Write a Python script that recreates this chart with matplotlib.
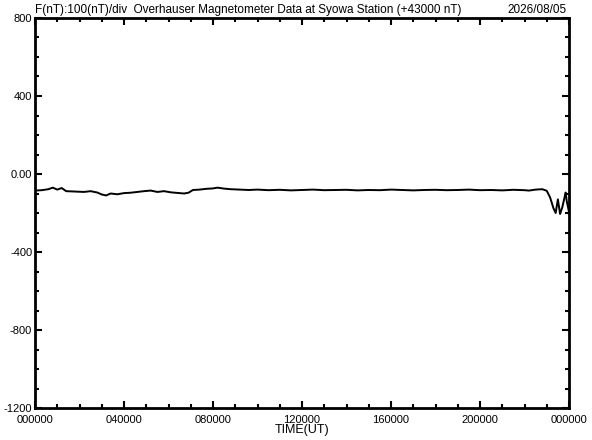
import numpy as np
import matplotlib
matplotlib.use("Agg")
import matplotlib.pyplot as plt
from matplotlib.ticker import MultipleLocator

plt.rcParams['font.family'] = ['Liberation Sans', 'DejaVu Sans']

# hours (UT) and F - 43000 (nT)
hours = [0.0, 0.3, 0.6, 0.8, 1.0, 1.2, 1.4, 1.8, 2.2, 2.5, 2.8, 3.0, 3.2, 3.4, 3.7,
         4.0, 4.3, 4.6, 4.9, 5.2, 5.5, 5.8, 6.1, 6.4, 6.7, 6.9, 7.1, 7.4, 7.7, 8.0,
         8.2, 8.5, 8.8, 9.2, 9.6, 10.0, 10.5, 11.0, 11.5, 12.0, 12.5, 13.0, 13.5,
         14.0, 14.5, 15.0, 15.5, 16.0, 16.5, 17.0, 17.5, 18.0, 18.5, 19.0, 19.5,
         20.0, 20.5, 21.0, 21.5, 22.0, 22.2, 22.5, 22.8, 23.0, 23.15, 23.3, 23.4,
         23.5, 23.6, 23.7, 23.8, 23.85, 23.9, 24.0]
fval = [-85, -83, -78, -70, -80, -72, -88, -90, -92, -88, -95, -105, -110, -100, -104,
        -98, -96, -92, -88, -85, -92, -88, -94, -97, -100, -96, -82, -80, -76, -74,
        -70, -75, -78, -80, -82, -80, -83, -81, -84, -82, -80, -83, -82,
        -81, -84, -82, -83, -80, -82, -84, -82, -81, -83, -82, -80,
        -83, -82, -84, -81, -83, -85, -80, -78, -86, -120, -175, -200,
        -130, -205, -170, -120, -95, -140, -195]

xticks = [0, 4, 8, 12, 16, 20, 24]
xlabels = ['000000', '040000', '080000', '120000', '160000', '200000', '000000']
yticks = [-1200, -800, -400, 0, 400, 800]
ylabels = ['-1200', '-800', '-400', '0.00', '400', '800']

fig = plt.figure(figsize=(5.92, 4.40), dpi=100)
ax = fig.add_axes([35/592, 32/440, 534/592, 390/440])
ax.plot(hours, fval, color='black', lw=1.4)

ax.set_xlim(0, 24)
ax.set_ylim(-1200, 800)
ax.set_xticks(xticks)
ax.set_xticklabels(xlabels)
ax.set_yticks(yticks)
ax.set_yticklabels(ylabels)
ax.xaxis.set_minor_locator(MultipleLocator(1))
ax.yaxis.set_minor_locator(MultipleLocator(100))
ax.tick_params(which='both', direction='in', top=True, right=True, width=1.5,
               labelsize=8, colors='black')
ax.tick_params(axis='x', pad=5)
ax.tick_params(axis='y', pad=2)
ax.tick_params(which='major', length=5)
ax.tick_params(which='minor', length=3)
for s in ax.spines.values():
    s.set_linewidth(2)

ax.set_xlabel('TIME(UT)', fontsize=9, labelpad=-1)
ax.text(0, 1.005, 'F(nT):100(nT)/div  Overhauser Magnetometer Data at Syowa Station (+43000 nT)',
        transform=ax.transAxes, fontsize=8.5, ha='left', va='bottom')
ax.text(0.995, 1.005, '2026/08/05', transform=ax.transAxes, fontsize=8.5,
        ha='right', va='bottom')

fig.savefig('out.png', dpi=100)
